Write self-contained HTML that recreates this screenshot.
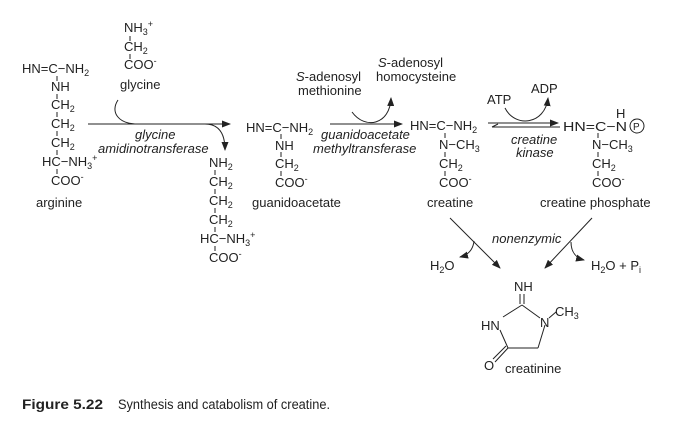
<!DOCTYPE html>
<html><head><meta charset="utf-8"><style>
body{margin:0;background:#fff}
svg{display:block}
svg text{font-family:"Liberation Sans",Arial,sans-serif;font-size:13px;fill:#222}
.i{font-style:italic}
.s{font-size:9px}
</style></head><body>
<svg width="675" height="422" viewBox="0 0 675 422" xmlns="http://www.w3.org/2000/svg" font-family="Liberation Sans, Arial, sans-serif">
<defs><marker id="a" markerWidth="9" markerHeight="7" refX="8" refY="3.5" orient="auto" markerUnits="userSpaceOnUse"><path d="M0,0 L9,3.5 L0,7 Z" fill="#222"/></marker></defs>
<g stroke="#222" stroke-width="1" fill="none">
<path d="M130,36v5M130,54v5"/>
<path d="M57,76v5M57,94v5M57,112v5M57,131v5M57,150v5M57,169v5"/>
<path d="M215,170v5M215,189v5M215,208v5M215,227v5M215,246v5"/>
<path d="M281,134v5M281,152v5M281,171v5"/>
<path d="M445,133v5M445,152v5M445,171v5"/>
<path d="M598,133v5M598,152v5M598,171v5"/>
<circle cx="637" cy="126" r="7"/>
<path d="M88,124H230" marker-end="url(#a)"/>
<path d="M118,100 C110,112 118,124 138,124"/>
<path d="M205,124 C218,124 225,132 225,150" marker-end="url(#a)"/>
<path d="M330,124H402" marker-end="url(#a)"/>
<path d="M352,112 C365,130 390,125 391,98" marker-end="url(#a)"/>
<path d="M488,123H558" marker-end="url(#a)"/>
<path d="M560,127H492"/><path d="M492,127l6,-3"/>
<path d="M505,108 C515,128 545,125 548,98" marker-end="url(#a)"/>
<path d="M450,218L500,268" marker-end="url(#a)"/>
<path d="M474,241 C473,250 468,255 460,257" marker-end="url(#a)"/>
<path d="M592,218L545,268" marker-end="url(#a)"/>
<path d="M571,242 C571,252 576,258 584,260" marker-end="url(#a)"/>
<path d="M520,294v10M524,294v10"/>
<path d="M522,305L540,318M522,305L503,317M545,325L538,348M538,348H508M508,348L500,330M508,348L495,362M506,346L493,359M549,318L556,312"/>
</g>
<text x="124" y="32">NH<tspan class="s" dy="3">3</tspan><tspan class="s" dy="-8">+</tspan></text>
<text x="124" y="51">CH<tspan class="s" dy="3">2</tspan></text>
<text x="124" y="69">COO<tspan class="s" dy="-5">-</tspan></text>
<text x="120" y="89">glycine</text>
<text x="22" y="73">HN=C−NH<tspan class="s" dy="3">2</tspan></text>
<text x="51" y="91">NH</text>
<text x="51" y="109">CH<tspan class="s" dy="3">2</tspan></text>
<text x="51" y="128">CH<tspan class="s" dy="3">2</tspan></text>
<text x="51" y="147">CH<tspan class="s" dy="3">2</tspan></text>
<text x="42" y="166">HC−NH<tspan class="s" dy="3">3</tspan><tspan class="s" dy="-8">+</tspan></text>
<text x="51" y="185">COO<tspan class="s" dy="-5">-</tspan></text>
<text x="36" y="207">arginine</text>
<text class="i" x="135" y="139">glycine</text>
<text class="i" x="98" y="153">amidinotransferase</text>
<text x="209" y="167">NH<tspan class="s" dy="3">2</tspan></text>
<text x="209" y="186">CH<tspan class="s" dy="3">2</tspan></text>
<text x="209" y="205">CH<tspan class="s" dy="3">2</tspan></text>
<text x="209" y="224">CH<tspan class="s" dy="3">2</tspan></text>
<text x="200" y="243">HC−NH<tspan class="s" dy="3">3</tspan><tspan class="s" dy="-8">+</tspan></text>
<text x="209" y="262">COO<tspan class="s" dy="-5">-</tspan></text>
<text x="246" y="132">HN=C−NH<tspan class="s" dy="3">2</tspan></text>
<text x="275" y="150">NH</text>
<text x="275" y="168">CH<tspan class="s" dy="3">2</tspan></text>
<text x="275" y="187">COO<tspan class="s" dy="-5">-</tspan></text>
<text x="252" y="207">guanidoacetate</text>
<text x="296" y="81"><tspan class="i">S</tspan>-adenosyl</text>
<text x="298" y="95">methionine</text>
<text x="378" y="67"><tspan class="i">S</tspan>-adenosyl</text>
<text x="376" y="81">homocysteine</text>
<text class="i" x="321" y="139">guanidoacetate</text>
<text class="i" x="313" y="153">methyltransferase</text>
<text x="410" y="130">HN=C−NH<tspan class="s" dy="3">2</tspan></text>
<text x="439" y="149">N−CH<tspan class="s" dy="3">3</tspan></text>
<text x="439" y="168">CH<tspan class="s" dy="3">2</tspan></text>
<text x="439" y="187">COO<tspan class="s" dy="-5">-</tspan></text>
<text x="427" y="207">creatine</text>
<text x="487" y="104">ATP</text>
<text x="531" y="93">ADP</text>
<text class="i" x="511" y="144">creatine</text>
<text class="i" x="516" y="157">kinase</text>
<text x="616" y="118">H</text>
<text x="563" y="131" textLength="64" lengthAdjust="spacingAndGlyphs">HN=C−N</text>
<text x="633" y="130" style="font-size:10px">P</text>
<text x="592" y="149">N−CH<tspan class="s" dy="3">3</tspan></text>
<text x="592" y="168">CH<tspan class="s" dy="3">2</tspan></text>
<text x="592" y="187">COO<tspan class="s" dy="-5">-</tspan></text>
<text x="540" y="207">creatine phosphate</text>
<text class="i" x="492" y="243">nonenzymic</text>
<text x="430" y="270">H<tspan class="s" dy="3">2</tspan><tspan dy="-3">O</tspan></text>
<text x="591" y="270">H<tspan class="s" dy="3">2</tspan><tspan dy="-3">O + P</tspan><tspan class="s" dy="3">i</tspan></text>
<text x="514" y="291">NH</text>
<text x="555" y="316">CH<tspan class="s" dy="3">3</tspan></text>
<text x="540" y="327">N</text>
<text x="481" y="330">HN</text>
<text x="484" y="370">O</text>
<text x="505" y="373">creatinine</text>
<text x="22" y="409" style="font-weight:bold;font-size:13.5px" textLength="81" lengthAdjust="spacingAndGlyphs">Figure 5.22</text>
<text x="118" y="409" style="font-size:13.5px" textLength="212" lengthAdjust="spacingAndGlyphs">Synthesis and catabolism of creatine.</text>
</svg>
</body></html>
